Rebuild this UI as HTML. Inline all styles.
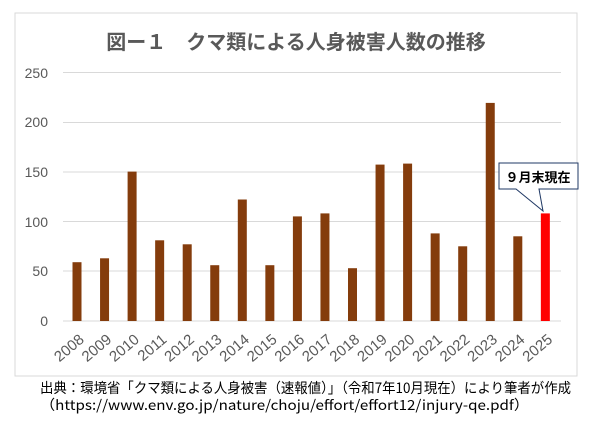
<!DOCTYPE html>
<html><head><meta charset="utf-8"><style>
html,body{margin:0;padding:0;background:#fff;}
svg{display:block;font-family:"Liberation Sans","Noto Sans CJK JP",sans-serif;}
</style></head><body>
<svg width="601" height="445" viewBox="0 0 601 445" xmlns="http://www.w3.org/2000/svg">
<rect x="15" y="13" width="562" height="363" fill="#fff" stroke="#d9d9d9" stroke-width="1"/>
<text x="296" y="49" text-anchor="middle" font-size="20" font-weight="bold" fill="#595959" font-family="'Noto Sans CJK JP',sans-serif">図ー１　クマ類による人身被害人数の推移</text>
<g stroke="#d9d9d9" stroke-width="1">
<line x1="63" x2="561" y1="72.5" y2="72.5"/>
<line x1="63" x2="561" y1="122.5" y2="122.5"/>
<line x1="63" x2="561" y1="172" y2="172"/>
<line x1="63" x2="561" y1="221.5" y2="221.5"/>
<line x1="63" x2="561" y1="271" y2="271"/>
<line x1="63" x2="561" y1="321" y2="321"/>
</g>
<g font-size="14" fill="#595959" text-anchor="end">
<text x="48" y="78">250</text>
<text x="48" y="127">200</text>
<text x="48" y="177">150</text>
<text x="48" y="227">100</text>
<text x="48" y="276">50</text>
<text x="48" y="326">0</text>
</g>
<g fill="#843c0c">
<rect x="72.5" y="262.2" width="9" height="58.8"/>
<rect x="100.05" y="258.3" width="9" height="62.7"/>
<rect x="127.6" y="171.6" width="9" height="149.4"/>
<rect x="155.15" y="240.3" width="9" height="80.7"/>
<rect x="182.7" y="244.3" width="9" height="76.7"/>
<rect x="210.25" y="265.2" width="9" height="55.8"/>
<rect x="237.8" y="199.5" width="9" height="121.5"/>
<rect x="265.35" y="265.2" width="9" height="55.8"/>
<rect x="292.9" y="216.4" width="9" height="104.6"/>
<rect x="320.45" y="213.4" width="9" height="107.6"/>
<rect x="348" y="268.2" width="9" height="52.8"/>
<rect x="375.55" y="164.6" width="9" height="156.4"/>
<rect x="403.1" y="163.6" width="9" height="157.4"/>
<rect x="430.65" y="233.4" width="9" height="87.6"/>
<rect x="458.2" y="246.3" width="9" height="74.7"/>
<rect x="485.75" y="102.9" width="9" height="218.1"/>
<rect x="513.3" y="236.3" width="9" height="84.7"/>
<rect x="540.85" y="213.4" width="9" height="107.6" fill="#ff0000"/>
</g>
<g font-size="15" fill="#595959" text-anchor="end">
<text transform="translate(85,341) rotate(-40)">2008</text>
<text transform="translate(112.55,341) rotate(-40)">2009</text>
<text transform="translate(140.1,341) rotate(-40)">2010</text>
<text transform="translate(167.65,341) rotate(-40)">2011</text>
<text transform="translate(195.2,341) rotate(-40)">2012</text>
<text transform="translate(222.75,341) rotate(-40)">2013</text>
<text transform="translate(250.3,341) rotate(-40)">2014</text>
<text transform="translate(277.85,341) rotate(-40)">2015</text>
<text transform="translate(305.4,341) rotate(-40)">2016</text>
<text transform="translate(332.95,341) rotate(-40)">2017</text>
<text transform="translate(360.5,341) rotate(-40)">2018</text>
<text transform="translate(388.05,341) rotate(-40)">2019</text>
<text transform="translate(415.6,341) rotate(-40)">2020</text>
<text transform="translate(443.15,341) rotate(-40)">2021</text>
<text transform="translate(470.7,341) rotate(-40)">2022</text>
<text transform="translate(498.25,341) rotate(-40)">2023</text>
<text transform="translate(525.8,341) rotate(-40)">2024</text>
<text transform="translate(553.35,341) rotate(-40)">2025</text>
</g>
<path d="M499 163 H578 V189 H539 L543 211 L516 189 H499 Z" fill="#fff" stroke="#1f3864" stroke-width="1"/>
<text x="538" y="182" text-anchor="middle" font-size="13" font-weight="bold" fill="#000" font-family="'Noto Sans CJK JP',sans-serif">９月末現在</text>
<text x="40" y="393" font-size="14" fill="#000" font-family="'Noto Sans CJK JP',sans-serif" textLength="531" lengthAdjust="spacingAndGlyphs">出典：環境省「クマ類による人身被害（速報値）」（令和7年10月現在）により筆者が作成</text>
<text x="40" y="410" font-size="14" fill="#000" font-family="'Noto Sans CJK JP',sans-serif" textLength="489" lengthAdjust="spacingAndGlyphs">（https://www.env.go.jp/nature/choju/effort/effort12/injury-qe.pdf）</text>
</svg>
</body></html>
